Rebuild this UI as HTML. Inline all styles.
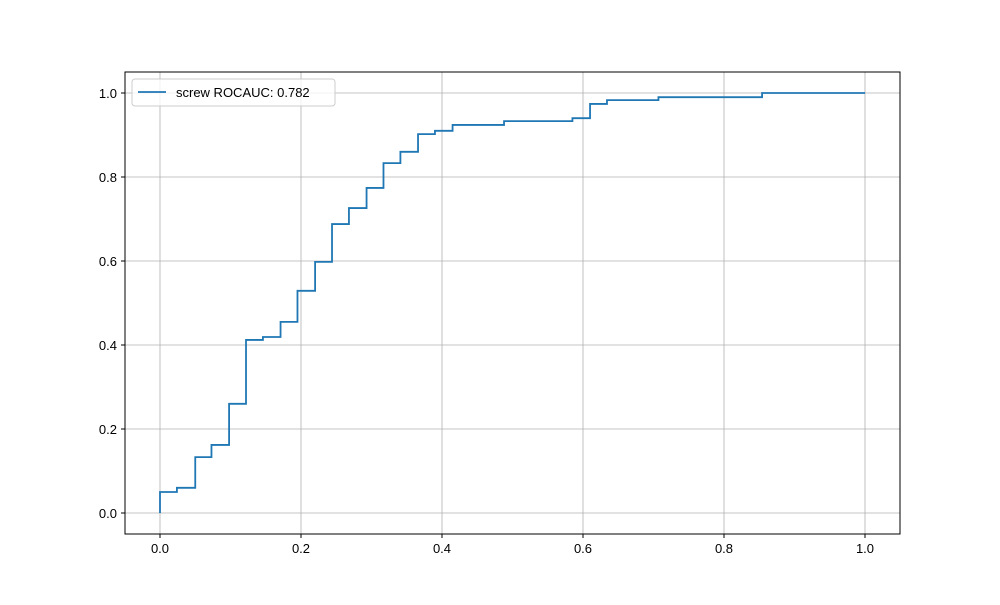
<!DOCTYPE html>
<html><head><meta charset="utf-8"><style>
body{margin:0;background:#fff}
svg text{font-family:"Liberation Sans","DejaVu Sans",sans-serif;font-size:13px;fill:#000}
</style></head><body>
<svg id="chart" width="1000" height="600">
<rect width="1000" height="600" fill="#fff"/>
<g id="grid"></g><g id="ticks"></g><g id="series"></g>
<rect x="125" y="72" width="775" height="462" fill="none" stroke="#000" stroke-width="1"/>
<g>
<rect x="132" y="79" width="203" height="27" rx="3" fill="#fff" fill-opacity="0.8" stroke="#ccc"/>
<line x1="138" y1="92" x2="166" y2="92" stroke="#1f77b4" stroke-width="1.8"/>
<text x="176" y="97">screw ROCAUC: 0.782</text>
</g>
</svg>
<script>
const fpr=[0,0,0.024,0.05,0.073,0.098,0.122,0.146,0.171,0.195,0.22,0.244,0.268,0.293,0.317,0.341,0.366,0.39,0.415,0.488,0.585,0.61,0.634,0.707,0.854,1.0];
const tpr=[0,0.05,0.06,0.133,0.162,0.26,0.412,0.419,0.455,0.529,0.598,0.688,0.726,0.774,0.833,0.86,0.902,0.91,0.924,0.933,0.94,0.974,0.983,0.99,1.0,1.0];
const xTicks=[0,0.2,0.4,0.6,0.8,1.0];
const yTicks=[0,0.2,0.4,0.6,0.8,1.0];
const X=v=>160+v*705, Y=v=>513-v*420;
const NS='http://www.w3.org/2000/svg';
const grid=document.getElementById('grid'),ticks=document.getElementById('ticks'),ser=document.getElementById('series');
function mk(tag,attrs,parent){const e=document.createElementNS(NS,tag);for(const k in attrs)e.setAttribute(k,attrs[k]);parent.appendChild(e);return e;}
xTicks.forEach(t=>{
 const g=mk('line',{x1:X(t),x2:X(t),y1:72,y2:534,stroke:'#b0b0b0','stroke-width':0.8},grid);
 
 
 mk('line',{x1:X(t),x2:X(t),y1:534,y2:538,stroke:'#000'},ticks);
 const tx=mk('text',{x:X(t),y:553,'text-anchor':'middle'},ticks);tx.textContent=t.toFixed(1);
 
 
});
yTicks.forEach(t=>{
 const g=mk('line',{x1:125,x2:900,y1:Y(t),y2:Y(t),stroke:'#b0b0b0','stroke-width':0.8},grid);
 
 
 mk('line',{x1:121,x2:125,y1:Y(t),y2:Y(t),stroke:'#000'},ticks);
 const tx=mk('text',{x:117,y:Y(t)+5,'text-anchor':'end'},ticks);tx.textContent=t.toFixed(1);
 
 
});
let d='M'+X(fpr[0])+' '+Y(tpr[0]);
for(let i=1;i<fpr.length;i++){d+=' L'+X(fpr[i])+' '+Y(tpr[i-1])+' L'+X(fpr[i])+' '+Y(tpr[i]);}
const p=mk('path',{d:d,fill:'none',stroke:'#1f77b4','stroke-width':1.8},ser);


</script>
</body></html>
